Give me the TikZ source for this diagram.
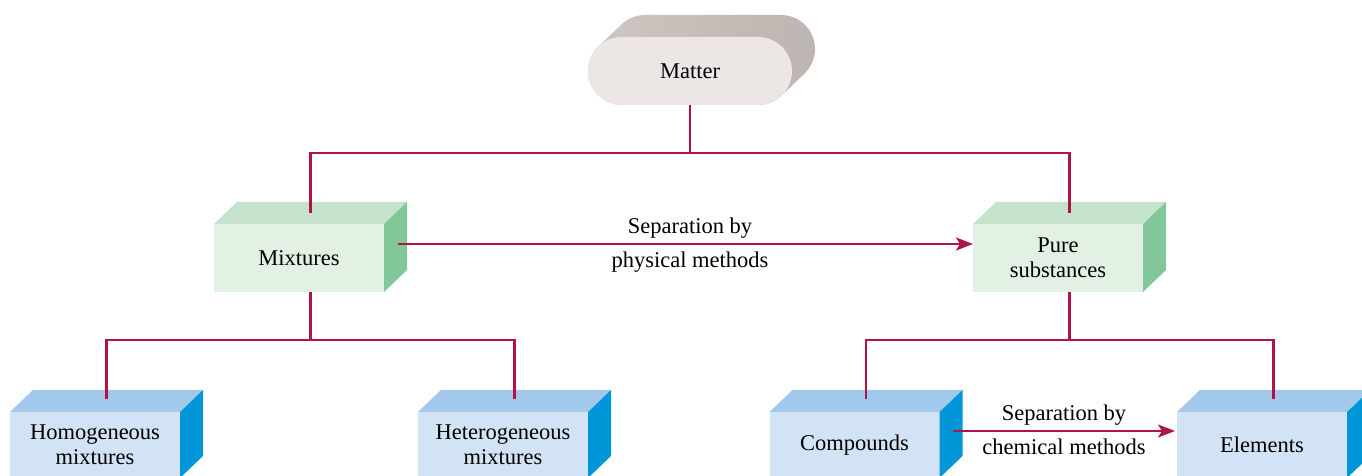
\documentclass[tikz,border=0pt]{standalone}
\usepackage{fontspec}
\setmainfont{Liberation Serif}
\usetikzlibrary{arrows.meta,calc}
\definecolor{lnk}{HTML}{B0124A}
\definecolor{gtop}{HTML}{C5E3CC}
\definecolor{gfront}{HTML}{E3F0E4}
\definecolor{gside}{HTML}{82C79A}
\definecolor{btop}{HTML}{A2C8EB}
\definecolor{bfront}{HTML}{D2E3F5}
\definecolor{bside}{HTML}{0096D8}
\definecolor{mfront}{HTML}{ECE6E4}
\definecolor{mdark}{HTML}{D0C5C1}
\definecolor{mmid}{HTML}{E0D9D6}
\definecolor{mright}{HTML}{BDB5B1}
\newcommand\cubefaces[3]{%
  \fill[#2] (#1.north west) -- ++(23,22) -- ($(#1.north east)+(23,22)$) -- (#1.north east) -- cycle;
  \fill[#3] (#1.north east) -- ++(23,22) -- ($(#1.south east)+(23,22)$) -- (#1.south east) -- cycle;}
\begin{document}
\begin{tikzpicture}[x=1pt,y=1pt,
  txt/.style={font=\fontsize{22.5}{25}\selectfont},
  box/.style={txt, minimum width=170pt, inner sep=0pt, outer sep=0pt, align=center},
  gbox/.style={box, fill=gfront, minimum height=68pt},
  bbox/.style={box, fill=bfront, minimum height=66pt},
  link/.style={draw=lnk, line width=2.2pt},
  arr/.style={link, -{Stealth[length=17pt,width=13pt,inset=4pt]}},
  lbl/.style={txt, inner sep=0pt}]
\useasboundingbox (0,0) rectangle (1362,476);
\clip (0,0) rectangle (1362,476);
% Matter
\shade[left color=mdark, middle color=mmid, right color=mright]
  (645,461) -- (781,461) arc[start angle=90,end angle=-46.3,radius=34]
  -- ($(758,405)+(-46.3:34)$) arc[start angle=-46.3,end angle=-90,radius=34]
  -- (622,371) arc[start angle=270,end angle=133.7,radius=34]
  -- ($(645,427)+(133.7:34)$) arc[start angle=133.7,end angle=90,radius=34] -- cycle;
\fill[mfront] (622,439) -- (758,439) arc[start angle=90,end angle=-90,radius=34]
  -- (622,371) arc[start angle=270,end angle=90,radius=34] -- cycle;
\node[box, minimum width=204pt, minimum height=68pt] (matter) at (690,405) {Matter};
% green boxes
\node[gbox] (mix) at (299,218) {Mixtures};
\cubefaces{mix}{gtop}{gside}
\node[gbox] (pure) at (1058,218) {Pure\\substances};
\cubefaces{pure}{gtop}{gside}
% blue boxes
\node[bbox] (hom) at (95,31) {Homogeneous\\mixtures};
\cubefaces{hom}{btop}{bside}
\node[bbox] (het) at (503,31) {Heterogeneous\\mixtures};
\cubefaces{het}{btop}{bside}
\node[bbox] (comp) at (854.5,31) {Compounds};
\cubefaces{comp}{btop}{bside}
\node[bbox] (elem) at (1262,31) {Elements};
\cubefaces{elem}{btop}{bside}
% tree connectors
\coordinate (fork0) at (690,323);
\coordinate (mixtop) at ($(mix.north)+(11.5,11)$);
\coordinate (puretop) at ($(pure.north)+(11.5,11)$);
\draw[link] (matter.south) -- (fork0);
\draw[link] (mixtop) |- (fork0) -| (puretop);
\coordinate (mixbot) at ($(mix.south)+(11.5,0)$);
\coordinate (fork1) at ($(mix.south)+(11.5,-48)$);
\coordinate (homtop) at ($(hom.north)+(11.5,13)$);
\coordinate (hettop) at ($(het.north)+(11.5,13)$);
\draw[link] (mixbot) -- (fork1);
\draw[link] (homtop) |- (fork1) -| (hettop);
\coordinate (purebot) at ($(pure.south)+(11.5,0)$);
\coordinate (fork2) at ($(pure.south)+(11.5,-48)$);
\coordinate (comptop) at ($(comp.north)+(11.5,13)$);
\coordinate (elemtop) at ($(elem.north)+(11.5,13)$);
\draw[link] (purebot) -- (fork2);
\draw[link] (comptop) |- (fork2) -| (elemtop);
% separation arrows
\coordinate (a1) at ($(mix.east)+(14,14)$);
\draw[arr] (a1) -- (pure.west |- a1);
\node[lbl] (sep1) at (690,248) {Separation by};
\node[lbl] (phys) at (690,214) {physical methods};
\coordinate (a2) at ($(comp.east)+(13,14)$);
\coordinate (a2e) at ($(elem.west)+(-2,14)$);
\draw[arr] (a2) -- (a2e);
\node[lbl] (sep2) at (1064,61) {Separation by};
\node[lbl] (chem) at (1064,29) {chemical methods};
\end{tikzpicture}
\end{document}
